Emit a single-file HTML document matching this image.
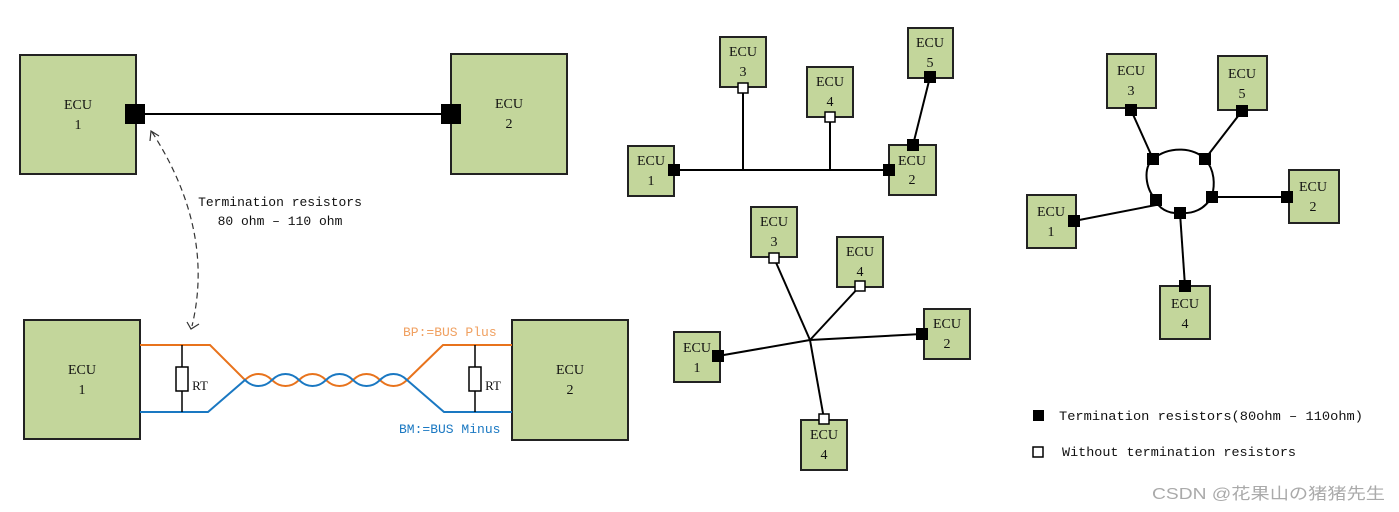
<!DOCTYPE html>
<html><head><meta charset="utf-8"><style>
html,body{margin:0;padding:0;background:#fff;}
svg{display:block}
.e{fill:#c3d69b;stroke:#222;stroke-width:2}
.t{font-family:"Liberation Serif","Noto Serif CJK SC",serif;font-size:14px;fill:#111;text-anchor:middle}
.m{font-family:"Liberation Mono","Noto Sans CJK SC",monospace;font-size:13px;fill:#111}
.l{stroke:#000;stroke-width:2;fill:none}
.b{fill:#000}
.w{fill:#fff;stroke:#000;stroke-width:1.5}
</style></head><body>
<svg width="1399" height="512" viewBox="0 0 1399 512" xmlns="http://www.w3.org/2000/svg">
<!-- top-left -->
<rect class="e" x="20" y="55" width="116" height="119"/>
<rect class="e" x="451" y="54" width="116" height="120"/>
<text class="t" x="78" y="109">ECU</text><text class="t" x="78" y="129">1</text>
<text class="t" x="509" y="108">ECU</text><text class="t" x="509" y="128">2</text>
<line class="l" x1="140" y1="114" x2="446" y2="114"/>
<rect class="b" x="125" y="104" width="20" height="20"/>
<rect class="b" x="441" y="104" width="20" height="20"/>
<text class="m" x="280" y="206" text-anchor="middle">Termination resistors</text>
<text class="m" x="280" y="225" text-anchor="middle">80 ohm – 110 ohm</text>
<path d="M152 132 Q215 230 192 326" fill="none" stroke="#333" stroke-width="1.2" stroke-dasharray="6,4"/>
<path d="M150 141 L151 131 L159 136" fill="none" stroke="#333" stroke-width="1.2"/>
<path d="M187 322 L191 329 L199 324" fill="none" stroke="#333" stroke-width="1.2"/>
<!-- bottom-left -->
<rect class="e" x="24" y="320" width="116" height="119"/>
<rect class="e" x="512" y="320" width="116" height="120"/>
<text class="t" x="82" y="374">ECU</text><text class="t" x="82" y="394">1</text>
<text class="t" x="570" y="374">ECU</text><text class="t" x="570" y="394">2</text>
<path d="M140 345 H210 L245 380 C253 372 264 372 272 380 C280 388 291 388 299 380 C307 372 318 372 326 380 C334 388 345 388 353 380 C361 372 372 372 380 380 C388 388 399 388 407 380 L443 345 H512" fill="none" stroke="#e8731c" stroke-width="2"/>
<path d="M140 412 H208 L245 380 C253 388 264 388 272 380 C280 372 291 372 299 380 C307 388 318 388 326 380 C334 372 345 372 353 380 C361 388 372 388 380 380 C388 372 399 372 407 380 L444 412 H512" fill="none" stroke="#1a78c2" stroke-width="2"/>
<line x1="182" y1="345" x2="182" y2="412" stroke="#000" stroke-width="1.5"/>
<rect x="176" y="367" width="12" height="24" fill="#fff" stroke="#000" stroke-width="1.5"/>
<text class="t" x="200" y="390" style="font-size:13px">RT</text>
<line x1="475" y1="345" x2="475" y2="412" stroke="#000" stroke-width="1.5"/>
<rect x="469" y="367" width="12" height="24" fill="#fff" stroke="#000" stroke-width="1.5"/>
<text class="t" x="493" y="390" style="font-size:13px">RT</text>
<text class="m" x="403" y="336" style="fill:#f0a060">BP:=BUS Plus</text>
<text class="m" x="399" y="433" style="fill:#1a78c2">BM:=BUS Minus</text>
<!-- bus topology -->
<rect class="e" x="628" y="146" width="46" height="50"/>
<rect class="e" x="889" y="145" width="47" height="50"/>
<rect class="e" x="720" y="37" width="46" height="50"/>
<rect class="e" x="807" y="67" width="46" height="50"/>
<rect class="e" x="908" y="28" width="45" height="50"/>
<text class="t" x="651" y="165">ECU</text><text class="t" x="651" y="185">1</text>
<text class="t" x="912" y="165">ECU</text><text class="t" x="912" y="184">2</text>
<text class="t" x="743" y="56">ECU</text><text class="t" x="743" y="76">3</text>
<text class="t" x="830" y="86">ECU</text><text class="t" x="830" y="106">4</text>
<text class="t" x="930" y="47">ECU</text><text class="t" x="930" y="67">5</text>
<line class="l" x1="674" y1="170" x2="888" y2="170"/>
<line class="l" x1="743" y1="88" x2="743" y2="170"/>
<line class="l" x1="830" y1="117" x2="830" y2="170"/>
<line class="l" x1="930" y1="77" x2="913" y2="145"/>
<rect class="b" x="668" y="164" width="12" height="12"/>
<rect class="b" x="883" y="164" width="12" height="12"/>
<rect class="b" x="924" y="71" width="12" height="12"/>
<rect class="b" x="907" y="139" width="12" height="12"/>
<rect class="w" x="738" y="83" width="10" height="10"/>
<rect class="w" x="825" y="112" width="10" height="10"/>
<!-- star -->
<rect class="e" x="751" y="207" width="46" height="50"/>
<rect class="e" x="837" y="237" width="46" height="50"/>
<rect class="e" x="924" y="309" width="46" height="50"/>
<rect class="e" x="674" y="332" width="46" height="50"/>
<rect class="e" x="801" y="420" width="46" height="50"/>
<text class="t" x="774" y="226">ECU</text><text class="t" x="774" y="246">3</text>
<text class="t" x="860" y="256">ECU</text><text class="t" x="860" y="276">4</text>
<text class="t" x="947" y="328">ECU</text><text class="t" x="947" y="348">2</text>
<text class="t" x="697" y="352">ECU</text><text class="t" x="697" y="372">1</text>
<text class="t" x="824" y="439">ECU</text><text class="t" x="824" y="459">4</text>
<line class="l" x1="774" y1="258" x2="810" y2="340"/>
<line class="l" x1="860" y1="286" x2="810" y2="340"/>
<line class="l" x1="922" y1="334" x2="810" y2="340"/>
<line class="l" x1="718" y1="356" x2="810" y2="340"/>
<line class="l" x1="824" y1="419" x2="810" y2="340"/>
<rect class="b" x="916" y="328" width="12" height="12"/>
<rect class="b" x="712" y="350" width="12" height="12"/>
<rect class="w" x="769" y="253" width="10" height="10"/>
<rect class="w" x="855" y="281" width="10" height="10"/>
<rect class="w" x="819" y="414" width="10" height="10"/>
<!-- ring -->
<rect class="e" x="1107" y="54" width="49" height="54"/>
<rect class="e" x="1218" y="56" width="49" height="54"/>
<rect class="e" x="1289" y="170" width="50" height="53"/>
<rect class="e" x="1027" y="195" width="49" height="53"/>
<rect class="e" x="1160" y="286" width="50" height="53"/>
<text class="t" x="1131" y="75">ECU</text><text class="t" x="1131" y="95">3</text>
<text class="t" x="1242" y="78">ECU</text><text class="t" x="1242" y="98">5</text>
<text class="t" x="1313" y="191">ECU</text><text class="t" x="1313" y="211">2</text>
<text class="t" x="1051" y="216">ECU</text><text class="t" x="1051" y="236">1</text>
<text class="t" x="1185" y="308">ECU</text><text class="t" x="1185" y="328">4</text>
<path d="M1153 159 C1170 145 1195 148 1205 159 C1215 170 1215 185 1212 196 C1205 210 1192 214 1180 213 C1168 214 1158 208 1156 200 C1145 188 1143 168 1153 159 Z" class="l"/>
<line class="l" x1="1131" y1="110" x2="1153" y2="159"/>
<line class="l" x1="1242" y1="111" x2="1205" y2="159"/>
<line class="l" x1="1212" y1="197" x2="1287" y2="197"/>
<line class="l" x1="1074" y1="221" x2="1156" y2="205"/>
<line class="l" x1="1180" y1="213" x2="1185" y2="286"/>
<rect class="b" x="1125" y="104" width="12" height="12"/>
<rect class="b" x="1236" y="105" width="12" height="12"/>
<rect class="b" x="1281" y="191" width="12" height="12"/>
<rect class="b" x="1068" y="215" width="12" height="12"/>
<rect class="b" x="1179" y="280" width="12" height="12"/>
<rect class="b" x="1147" y="153" width="12" height="12"/>
<rect class="b" x="1199" y="153" width="12" height="12"/>
<rect class="b" x="1206" y="191" width="12" height="12"/>
<rect class="b" x="1174" y="207" width="12" height="12"/>
<rect class="b" x="1150" y="194" width="12" height="12"/>
<!-- legend -->
<rect class="b" x="1033" y="410" width="11" height="11"/>
<text class="m" x="1059" y="420" textLength="304" lengthAdjust="spacingAndGlyphs">Termination resistors(80ohm – 110ohm)</text>
<rect class="w" x="1033" y="447" width="10" height="10"/>
<text class="m" x="1062" y="456" textLength="234" lengthAdjust="spacingAndGlyphs">Without termination resistors</text>
<text x="1152" y="499" textLength="233" lengthAdjust="spacingAndGlyphs" style="font-family:'Liberation Sans','Noto Sans CJK SC',sans-serif;font-size:16px;fill:#aaa">CSDN @花果山の猪猪先生</text>
</svg>
</body></html>
